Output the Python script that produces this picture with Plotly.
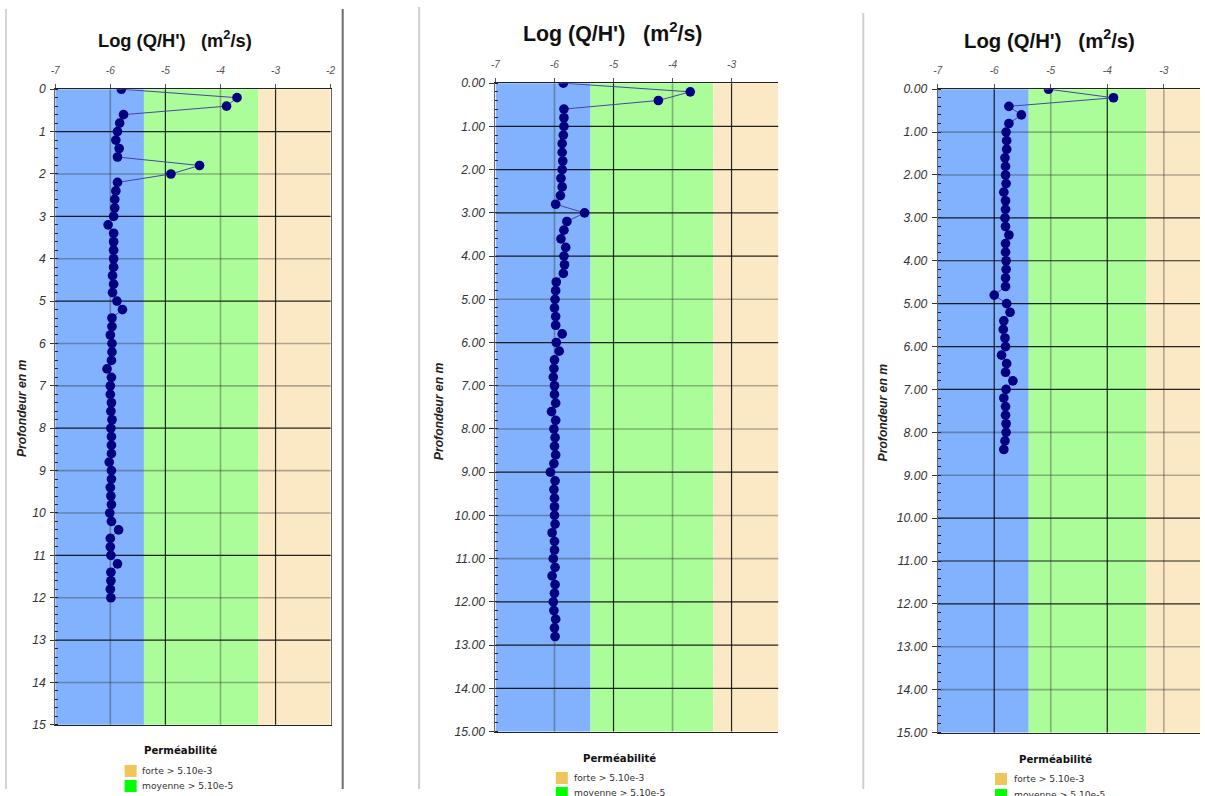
import plotly.graph_objects as go

# Page is 1205x796; the photographed picture shows it inside an 8px frame
# (content area 1189x780), so picture coordinates are mapped accordingly.
W, H = 1205, 796
OFF = 8
CW, CH = 1205 - 2 * OFF, 796 - 2 * OFF
SCALE = (CW / W + CH / H) / 2  # size compensation for text / markers

# ---------------- data ----------------
DEPTH_1 = [0.0, 0.2, 0.4, 0.6, 0.8, 1.0, 1.2, 1.4, 1.6, 1.8, 2.0, 2.2, 2.4, 2.6, 2.8,
           3.0, 3.2, 3.4, 3.6, 3.8, 4.0, 4.2, 4.4, 4.6, 4.8, 5.0, 5.2, 5.4, 5.6, 5.8,
           6.0, 6.2, 6.4, 6.6, 6.8, 7.0, 7.2, 7.4, 7.6, 7.8, 8.0, 8.2, 8.4, 8.6, 8.8,
           9.0, 9.2, 9.4, 9.6, 9.8, 10.0, 10.2, 10.4, 10.6, 10.8, 11.0, 11.2, 11.4,
           11.6, 11.8, 12.0]
LOGQ_1 = [-5.80, -3.70, -3.89, -5.76, -5.83, -5.87, -5.90, -5.84, -5.87, -4.38, -4.90,
          -5.87, -5.90, -5.92, -5.92, -5.94, -6.04, -5.94, -5.94, -5.94, -5.94, -5.94,
          -5.96, -5.94, -5.96, -5.88, -5.78, -5.97, -5.97, -6.00, -5.97, -5.97, -5.98,
          -6.06, -5.98, -6.00, -6.00, -5.98, -5.99, -5.97, -5.99, -5.98, -5.98, -5.98,
          -6.02, -5.98, -5.98, -6.00, -5.99, -5.98, -6.01, -5.98, -5.85, -6.00, -6.00,
          -5.99, -5.87, -5.99, -5.99, -6.00, -5.99]

DEPTH_2 = [0.0, 0.2, 0.4, 0.6, 0.8, 1.0, 1.2, 1.4, 1.6, 1.8, 2.0, 2.2, 2.4, 2.6, 2.8,
           3.0, 3.2, 3.4, 3.6, 3.8, 4.0, 4.2, 4.4, 4.6, 4.8, 5.0, 5.2, 5.4, 5.6, 5.8,
           6.0, 6.2, 6.4, 6.6, 6.8, 7.0, 7.2, 7.4, 7.6, 7.8, 8.0, 8.2, 8.4, 8.6, 8.8,
           9.0, 9.2, 9.4, 9.6, 9.8, 10.0, 10.2, 10.4, 10.6, 10.8, 11.0, 11.2, 11.4,
           11.6, 11.8, 12.0, 12.2, 12.4, 12.6, 12.8]
LOGQ_2 = [-5.85, -3.70, -4.24, -5.84, -5.84, -5.84, -5.85, -5.87, -5.87, -5.86, -5.87,
          -5.89, -5.87, -5.90, -5.98, -5.49, -5.79, -5.84, -5.89, -5.81, -5.84, -5.83,
          -5.85, -5.97, -5.98, -5.99, -6.00, -5.98, -5.98, -5.87, -5.97, -5.92, -6.00,
          -6.01, -6.02, -6.00, -6.00, -5.98, -6.05, -5.98, -6.01, -5.99, -6.00, -5.98,
          -6.01, -6.07, -5.99, -6.01, -6.00, -6.00, -6.00, -5.99, -6.04, -6.00, -6.00,
          -6.02, -5.99, -6.04, -5.99, -6.00, -6.02, -6.01, -5.98, -6.00, -5.99]

DEPTH_3 = [0.0, 0.2, 0.4, 0.6, 0.8, 1.0, 1.2, 1.4, 1.6, 1.8, 2.0, 2.2, 2.4, 2.6, 2.8,
           3.0, 3.2, 3.4, 3.6, 3.8, 4.0, 4.2, 4.4, 4.6, 4.8, 5.0, 5.2, 5.4, 5.6, 5.8,
           6.0, 6.2, 6.4, 6.6, 6.8, 7.0, 7.2, 7.4, 7.6, 7.8, 8.0, 8.2, 8.4]
LOGQ_3 = [-5.04, -3.89, -5.74, -5.52, -5.74, -5.79, -5.78, -5.78, -5.81, -5.80, -5.80,
          -5.79, -5.83, -5.80, -5.80, -5.81, -5.80, -5.74, -5.80, -5.80, -5.79, -5.79,
          -5.80, -5.80, -6.00, -5.78, -5.72, -5.83, -5.84, -5.81, -5.80, -5.87, -5.78,
          -5.80, -5.67, -5.79, -5.83, -5.80, -5.80, -5.79, -5.79, -5.81, -5.83]

X_TICKS_1 = [-7, -6, -5, -4, -3, -2]
X_TICK_LABELS_1 = ["-7", "-6", "-5", "-4", "-3", "-2"]
X_TICKS_23 = [-7, -6, -5, -4, -3]
X_TICK_LABELS_23 = ["-7", "-6", "-5", "-4", "-3"]
Y_TICKS = [0, 1, 2, 3, 4, 5, 6, 7, 8, 9, 10, 11, 12, 13, 14, 15]
Y_TICK_LABELS_1 = ["0", "1", "2", "3", "4", "5", "6", "7", "8", "9", "10", "11",
                   "12", "13", "14", "15"]
Y_TICK_LABELS_23 = ["0.00", "1.00", "2.00", "3.00", "4.00", "5.00", "6.00", "7.00",
                    "8.00", "9.00", "10.00", "11.00", "12.00", "13.00", "14.00", "15.00"]

BAND_EDGES = [-7.0, -5.39, -3.31, -2.0]
BAND_COLORS = ["#82b1fd", "#abfd99", "#fbe9c5"]

TITLE = "Log (Q/H')\u00a0\u00a0\u00a0(m<sup>2</sup>/s)"
Y_TITLE = "Profondeur en m"
LEGEND_TITLE = "Perméabilité"
LEGEND_LABELS = ["forte > 5.10e-3", "moyenne > 5.10e-5"]
LEGEND_COLORS = ["#f0c65c", "#00ff00"]

# dark (True) / light (False) grid lines, per panel
H_GRID_DARK = [
    {1: True, 2: False, 3: True, 4: False, 5: True, 6: False, 7: False, 8: True,
     9: False, 10: False, 11: True, 12: False, 13: True, 14: False},
    {1: True, 2: True, 3: True, 4: True, 5: False, 6: True, 7: False, 8: False,
     9: True, 10: False, 11: False, 12: True, 13: True, 14: True},
    {1: False, 2: False, 3: True, 4: True, 5: True, 6: True, 7: True, 8: False,
     9: False, 10: True, 11: True, 12: True, 13: False, 14: False},
]
V_GRID_DARK = [
    {-6: False, -5: True, -4: False, -3: True},
    {-6: False, -5: True, -4: False, -3: True},
    {-6: True, -5: False, -4: True, -3: False},
]


# ---------------- layout helpers (picture pixels -> paper) ----------------
def px(x):
    return (x - OFF) / CW


def py(y):
    return 1 - (y - OFF) / CH


def fs(s):
    return s / SCALE


PANELS = [
    dict(depth=DEPTH_1, logq=LOGQ_1, xpx=(58, 332), ypx=(90, 724), xmax=-2.0,
         xt=X_TICKS_1, xtl=X_TICK_LABELS_1, ytl=Y_TICK_LABELS_1, mirror_y=True,
         title=(177, 40, 18), ytitle=(25, 408), ylen=4,
         leg=dict(title=(183, 750), sq_x=127, sq_y=(764, 779), lab_x=142)),
    dict(depth=DEPTH_2, logq=LOGQ_2, xpx=(496, 777.3), ypx=(84, 730.7), xmax=-2.21,
         xt=X_TICKS_23, xtl=X_TICK_LABELS_23, ytl=Y_TICK_LABELS_23, mirror_y=False,
         title=(612, 33, 21), ytitle=(440, 411), ylen=5,
         leg=dict(title=(619, 758), sq_x=556, sq_y=(771, 786), lab_x=572)),
    dict(depth=DEPTH_3, logq=LOGQ_3, xpx=(936, 1197), ypx=(90, 731.7), xmax=-2.36,
         xt=X_TICKS_23, xtl=X_TICK_LABELS_23, ytl=Y_TICK_LABELS_23, mirror_y=False,
         title=(1047, 40, 20), ytitle=(882, 412), ylen=5,
         leg=dict(title=(1053, 759), sq_x=993, sq_y=(772, 788), lab_x=1010)),
]

fig = go.Figure()
shapes = []
annotations = []
layout = dict(
    width=W, height=H,
    margin=dict(l=0, r=0, t=0, b=0),
    paper_bgcolor="white", plot_bgcolor="white",
    showlegend=False,
    font=dict(family="Liberation Sans, Arial, sans-serif"),
)

for i, p in enumerate(PANELS, start=1):
    xa = "x" if i == 1 else f"x{i}"
    ya = "y" if i == 1 else f"y{i}"
    fig.add_trace(go.Scatter(
        x=p["logq"], y=p["depth"], mode="lines+markers",
        line=dict(color="#4646a6", width=1),
        marker=dict(color="#000080", size=fs(9.5)),
        xaxis=xa, yaxis=ya, hoverinfo="skip",
    ))
    layout[f"xaxis{i}"] = dict(
        domain=[max(0, px(p["xpx"][0])), min(1, px(p["xpx"][1]))],
        range=[-7, p["xmax"]], side="top", anchor=ya,
        tickmode="array", tickvals=p["xt"], ticktext=p["xtl"],
        ticks="outside", ticklen=4, tickcolor="#555", tickwidth=1,
        showgrid=False, zeroline=False,
        showline=True, linecolor="#222", linewidth=1, mirror=True,
        tickfont=dict(family="Liberation Sans", size=fs(10), color="#555", style="italic"),
        ticklabelstandoff=6,
        fixedrange=True,
    )
    layout[f"yaxis{i}"] = dict(
        domain=[py(p["ypx"][1]), py(p["ypx"][0])],
        range=[15, 0], anchor=xa,
        tickmode="array", tickvals=Y_TICKS, ticktext=p["ytl"],
        ticks="outside", ticklen=p["ylen"], tickcolor="#333", tickwidth=1,
        showgrid=False, zeroline=False,
        showline=True, linecolor="#666", linewidth=1, mirror=p["mirror_y"],
        tickfont=dict(family="Liberation Sans", size=fs(12), color="#333", style="italic"),
        ticklabelstandoff=2,
        minor=dict(tickmode="linear", tick0=0, dtick=0.2, ticks="inside", ticklen=3,
                   tickcolor="#222", tickwidth=1, showgrid=False),
        fixedrange=True,
    )
    # permeability bands
    for k, col in enumerate(BAND_COLORS):
        shapes.append(dict(type="rect", xref=xa, yref=f"{ya} domain",
                           x0=BAND_EDGES[k], x1=BAND_EDGES[k + 1], y0=0, y1=1,
                           fillcolor=col, line=dict(width=0), layer="below"))
    # grid lines
    for d, dark in H_GRID_DARK[i - 1].items():
        shapes.append(dict(type="line", xref=f"{xa} domain", yref=ya,
                           x0=0, x1=1, y0=d, y1=d, layer="below",
                           line=dict(color="rgba(0,0,0,0.85)" if dark else "rgba(40,40,40,0.35)",
                                     width=1.2 if dark else 1.6)))
    for v, dark in V_GRID_DARK[i - 1].items():
        shapes.append(dict(type="line", xref=xa, yref=f"{ya} domain",
                           x0=v, x1=v, y0=0, y1=1, layer="below",
                           line=dict(color="rgba(0,0,0,0.85)" if dark else "rgba(40,40,40,0.35)",
                                     width=1.2 if dark else 1.6)))
    # titles
    tx, ty, ts = p["title"]
    annotations.append(dict(text=f"<b>{TITLE}</b>", xref="paper", yref="paper",
                            x=px(tx), y=py(ty), xanchor="center", yanchor="middle",
                            showarrow=False,
                            font=dict(family="Liberation Sans", size=fs(ts), color="#111")))
    yx, yy = p["ytitle"]
    annotations.append(dict(text=f"<b><i>{Y_TITLE}</i></b>", xref="paper", yref="paper",
                            x=px(yx), y=py(yy), xanchor="center", yanchor="middle",
                            textangle=-90, showarrow=False,
                            font=dict(family="Liberation Sans", size=fs(12), color="#222")))
    # legend block
    lg = p["leg"]
    annotations.append(dict(text=f"<b>{LEGEND_TITLE}</b>", xref="paper", yref="paper",
                            x=px(lg["title"][0]), y=py(lg["title"][1]),
                            xanchor="center", yanchor="middle", showarrow=False,
                            font=dict(family="DejaVu Sans", size=fs(10), color="#111")))
    for k, (lab, col) in enumerate(zip(LEGEND_LABELS, LEGEND_COLORS)):
        y0 = lg["sq_y"][k]
        shapes.append(dict(type="rect", xref="paper", yref="paper",
                           x0=px(lg["sq_x"]), x1=px(lg["sq_x"] + 12),
                           y0=py(y0 + 12), y1=py(y0),
                           fillcolor=col, line=dict(width=0), layer="above"))
        annotations.append(dict(text=lab, xref="paper", yref="paper",
                                x=px(lg["lab_x"]), y=py(y0 + 6),
                                xanchor="left", yanchor="middle", showarrow=False,
                                font=dict(family="DejaVu Sans", size=fs(9), color="#333")))

# panel separators (screenshot frames)
SEPARATORS = [(9, 10, "#d4d4d4", 2), (344, 10, "#6e6e6e", 2),
              (420, 8, "#cfcfcf", 2), (862, 14, "#cfcfcf", 2)]
for sx, sy, col, wd in SEPARATORS:
    shapes.append(dict(type="line", xref="paper", yref="paper",
                       x0=px(sx), x1=px(sx), y0=py(sy), y1=0,
                       line=dict(color=col, width=wd), layer="above"))

layout["shapes"] = shapes
layout["annotations"] = annotations
fig.update_layout(**layout)

fig.write_html("out.html", config={"displayModeBar": False},
               post_script="document.body.style.margin='0';")
